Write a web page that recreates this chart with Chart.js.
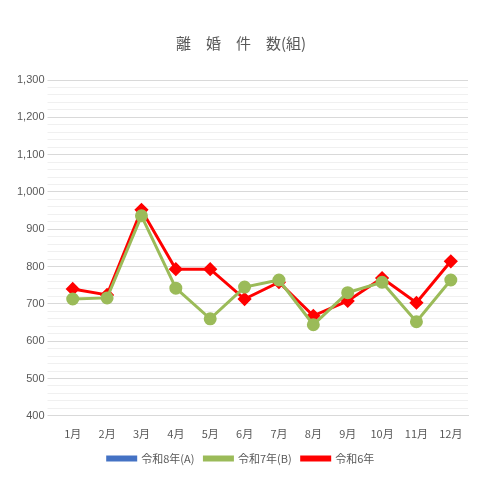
<!DOCTYPE html>
<html lang="ja">
<head>
<meta charset="UTF-8">
<script src="https://cdn.jsdelivr.net/npm/chart.js"></script>
<style>
  body { margin: 0; background: #fff; }
  #wrap { width: 478px; height: 480px; }
</style>
</head>
<body>
<div id="wrap"><canvas id="c"></canvas></div>
<script>
const months = ['1月','2月','3月','4月','5月','6月','7月','8月','9月','10月','11月','12月'];
const r8 = [];
const r7 = [713, 716, 936, 742, 660, 745, 764, 644, 730, 758, 652, 764];
const r6 = [740, 724, 952, 793, 793, 713, 758, 668, 708, 769, 703, 814];

new Chart(document.getElementById('c'), {
  type: 'line',
  data: {
    labels: months,
    datasets: [
      { label: '令和8年(A)', data: r8, borderColor: '#4472c4', backgroundColor: '#4472c4', borderWidth: 3, pointStyle: 'triangle', pointRadius: 4 },
      { label: '令和7年(B)', data: r7, borderColor: '#9bbb59', backgroundColor: '#9bbb59', borderWidth: 3, pointStyle: 'circle', pointRadius: 5 },
      { label: '令和6年', data: r6, borderColor: '#ff0000', backgroundColor: '#ff0000', borderWidth: 3, pointStyle: 'rectRot', pointRadius: 5 }
    ]
  },
  options: {
    responsive: true, maintainAspectRatio: false, animation: false,
    layout: { padding: { left: 14, right: 10, top: 34, bottom: 6 } },
    plugins: {
      title: { display: true, text: '離　婚　件　数(組)', color: '#595959', font: { family: 'Noto Sans CJK JP', size: 15, weight: 'normal' }, padding: { bottom: 28 } },
      legend: { position: 'bottom', labels: { boxWidth: 28, boxHeight: 3, color: '#595959', font: { family: 'Noto Sans CJK JP', size: 11 } } }
    },
    scales: {
      x: { offset: true, grid: { display: false }, border: { color: '#d9d9d9' }, ticks: { color: '#595959', font: { family: 'Noto Sans CJK JP', size: 11 } } },
      y: {
        min: 400, max: 1300,
        border: { display: false },
        grid: { color: ctx => ctx.tick.value % 100 === 0 ? '#d9d9d9' : '#f0f0f0' },
        ticks: { stepSize: 20, autoSkip: false, color: '#595959', font: { size: 11 },
          callback: v => v % 100 === 0 ? v.toLocaleString('en-US') : '' }
      }
    }
  }
});
</script>
</body>
</html>
